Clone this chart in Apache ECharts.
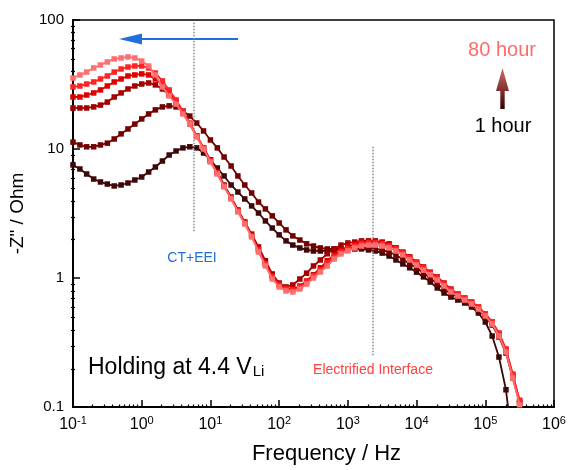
<!DOCTYPE html>
<html>
<head>
<meta charset="utf-8">
<script src="https://cdn.jsdelivr.net/npm/echarts@6/dist/echarts.min.js"></script>
<style>
  html, body { margin:0; padding:0; background:#fff; }
  #chart { width:569px; height:470px; }
</style>
</head>
<body>
<div id="chart"></div>
<script>
// frequency points (Hz), 10 per decade
const freq = [
  0.1, 0.126, 0.158, 0.2, 0.251, 0.316, 0.398, 0.501, 0.631, 0.794,
  1, 1.26, 1.58, 2, 2.51, 3.16, 3.98, 5.01, 6.31, 7.94,
  10, 12.6, 15.8, 20, 25.1, 31.6, 39.8, 50.1, 63.1, 79.4,
  100, 126, 158, 200, 251, 316, 398, 501, 631, 794,
  1000, 1260, 1580, 2000, 2510, 3160, 3980, 5010, 6310, 7940,
  10000, 12600, 15800, 20000, 25100, 31600, 39800, 50100, 63100, 79400,
  100000, 126000, 158000, 200000, 251000, 316000, 398000
];

// -Z'' (Ohm) for each holding time, 1 hour -> 80 hour
const h1 = [
  7.52, 7.00, 6.40, 5.85, 5.55, 5.35, 5.17, 5.26, 5.45, 5.75,
  6.07, 6.63, 7.25, 8.07, 8.98, 9.65, 10.2, 10.4, 10.2, 9.31,
  8.22, 7.12, 6.18, 5.26, 4.64, 4.10, 3.62, 3.19, 2.77, 2.44,
  2.16, 1.94, 1.80, 1.71, 1.65, 1.62, 1.62, 1.62, 1.65, 1.65,
  1.68, 1.68, 1.68, 1.65, 1.62, 1.56, 1.48, 1.38, 1.285, 1.20,
  1.11, 1.02, 0.931, 0.837, 0.765, 0.712, 0.675, 0.640, 0.596, 0.535,
  0.456, 0.355, 0.244, 0.136, 0.05
];
const h2 = [
  11.3, 10.75, 10.4, 10.4, 10.75, 11.1, 11.96, 13.1, 14.3, 15.6,
  17.1, 18.7, 20.1, 21.2, 21.6, 21.2, 19.7, 18.0, 15.9, 13.8,
  11.75, 10.2, 8.67, 7.38, 6.18, 5.26, 4.56, 3.88, 3.43, 3.03,
  2.67, 2.36, 2.12, 1.97, 1.84, 1.77, 1.71, 1.68, 1.68, 1.68,
  1.71, 1.71, 1.71, 1.71, 1.68, 1.65, 1.59, 1.51, 1.40, 1.285,
  1.20, 1.09, 1.0, 0.898, 0.822, 0.752, 0.712, 0.663, 0.618, 0.565,
  0.499, 0.432, 0.349, 0.262, 0.168, 0.107
];
const h3 = [
  20.8, 20.8, 20.8, 21.2, 21.9, 23.1, 25.3, 27.2, 29.2, 30.8,
  31.9, 32.5, 31.4, 29.2, 26.2, 22.7, 19.0, 15.6, 12.6, 10.2,
  8.22, 6.63, 5.26, 4.25, 3.37, 2.72, 2.19, 1.74, 1.36, 1.075,
  0.915, 0.852, 0.883, 0.982, 1.09, 1.24, 1.38, 1.54, 1.68, 1.80,
  1.87, 1.90, 1.94, 1.94, 1.94, 1.90, 1.84, 1.71, 1.56, 1.43,
  1.31, 1.175, 1.075, 0.982, 0.883, 0.793, 0.738, 0.687, 0.640, 0.585,
  0.517, 0.448, 0.362, 0.272, 0.174, 0.111
];
const h4 = [
  25.3, 25.3, 26.2, 27.2, 28.7, 30.8, 33.1, 34.9, 36.8, 37.5,
  38.2, 37.5, 34.9, 31.4, 27.2, 23.1, 19.0, 15.6, 12.6, 10.2,
  8.07, 6.52, 5.17, 4.17, 3.31, 2.67, 2.12, 1.65, 1.285, 1.04,
  0.898, 0.837, 0.822, 0.867, 0.948, 1.06, 1.20, 1.36, 1.51, 1.65,
  1.74, 1.84, 1.90, 1.90, 1.90, 1.87, 1.80, 1.71, 1.59, 1.46,
  1.33, 1.22, 1.11, 1.02, 0.915, 0.822, 0.752, 0.700, 0.652, 0.596,
  0.526, 0.456, 0.368, 0.277, 0.177, 0.109
];
const h5 = [
  30.3, 30.8, 31.9, 33.1, 34.9, 36.8, 39.5, 41.7, 43.2, 44.0,
  44.0, 42.5, 38.8, 33.7, 28.7, 24.0, 19.7, 15.9, 12.6, 10.2,
  8.07, 6.52, 5.17, 4.17, 3.31, 2.67, 2.12, 1.65, 1.285, 1.02,
  0.883, 0.822, 0.807, 0.852, 0.931, 1.04, 1.15, 1.31, 1.46, 1.59,
  1.68, 1.77, 1.84, 1.87, 1.87, 1.84, 1.77, 1.68, 1.56, 1.43,
  1.31, 1.20, 1.09, 1.0, 0.898, 0.807, 0.752, 0.700, 0.652, 0.596,
  0.526, 0.456, 0.375, 0.282, 0.180, 0.113
];
const h80 = [
  35.5, 37.5, 39.5, 42.5, 44.8, 47.3, 49.9, 50.8, 51.7, 50.8,
  48.1, 44.0, 37.5, 30.3, 25.8, 22.3, 18.7, 15.6, 12.4, 10.0,
  7.93, 6.40, 5.08, 4.10, 3.25, 2.62, 2.08, 1.59, 1.24, 0.982,
  0.852, 0.793, 0.779, 0.822, 0.898, 1.0, 1.113, 1.24, 1.404, 1.536,
  1.62, 1.71, 1.77, 1.80, 1.80, 1.77, 1.71, 1.62, 1.51, 1.38,
  1.26, 1.15, 1.06, 0.965, 0.867, 0.779, 0.725, 0.675, 0.629, 0.575,
  0.508, 0.440, 0.355, 0.267, 0.168, 0.104
];

const curves = [h1, h2, h3, h4, h5, h80];
const colors = ['#3f0808', '#720000', '#a30000', '#dd0000', '#ff2424', '#ff6f6f'];

// axis ticks
const xMajor = [0.1, 1, 10, 100, 1000, 10000, 100000, 1000000];
const yMajor = [0.1, 1, 10, 100];
const yLabels = ['0.1', '1', '10', '100'];
const minorSteps = [2, 3, 4, 5, 6, 7, 8, 9];

// guide lines: [freq, top, bottom]
const guideCT = [5.7, 95, 2.25];
const guideEI = [2300, 10.4, 0.245];

let xMinor = [], yMinor = [];
xMajor.slice(0, -1).forEach(d => minorSteps.forEach(m => xMinor.push(+(d * m).toPrecision(3))));
yMajor.slice(0, -1).forEach(d => minorSteps.forEach(m => yMinor.push(+(d * m).toPrecision(3))));

const font = '"Liberation Sans", Arial, sans-serif';

let myChart = echarts.init(document.getElementById('chart'));

let series = curves.map((c, k) => ({
  type:'line',
  xAxisIndex:0,
  yAxisIndex:0,
  symbol:'rect',
  symbolSize:5.5,
  color:colors[k],
  lineStyle:{ width:1.8, color:colors[k] },
  itemStyle:{ color:colors[k] },
  z:2 + k,
  data:c.map((v, i) => [freq[i], v])
}));

series[0].markLine = {
  silent:true,
  symbol:'none',
  label:{ show:false },
  lineStyle:{ type:'dotted', color:'#8a8a8a', width:1.5 },
  data:[
    [{ coord:[guideCT[0], guideCT[1]] }, { coord:[guideCT[0], guideCT[2]] }],
    [{ coord:[guideEI[0], guideEI[1]] }, { coord:[guideEI[0], guideEI[2]] }]
  ]
};

let gridBox = { left:71, right:15, top:20, bottom:62 };

let option = {
  animation:false,
  backgroundColor:'#fff',
  textStyle:{ fontFamily:font },
  grid:[
    Object.assign({ show:true, borderColor:'#000', borderWidth:1.5 }, gridBox),
    Object.assign({}, gridBox)
  ],
  xAxis:[
    {
      type:'log', gridIndex:0, min:0.1, max:1000000,
      name:'Frequency / Hz', nameLocation:'middle', nameGap:36,
      nameTextStyle:{ fontSize:22, color:'#000', fontFamily:font, padding:[0,0,0,26] },
      axisLine:{ lineStyle:{ color:'#000', width:2 } },
      axisTick:{ inside:true, length:7, customValues:xMajor, lineStyle:{ color:'#000', width:1.5 } },
      splitLine:{ show:false },
      axisLabel:{
        customValues:xMajor,
        margin:8,
        color:'#000',
        formatter:(value)=>{
          let e = Math.round(Math.log10(value));
          return '{b|10}{s|' + e + '}';
        },
        rich:{
          b:{ fontSize:16, fontFamily:font, color:'#000' },
          s:{ fontSize:11, fontFamily:font, color:'#000', padding:[0,0,9,0] }
        }
      }
    },
    {
      type:'log', gridIndex:1, min:0.1, max:1000000,
      axisLine:{ show:false },
      axisLabel:{ show:false },
      splitLine:{ show:false },
      axisTick:{ inside:true, length:3.5, customValues:xMinor, lineStyle:{ color:'#000', width:1.2 } }
    }
  ],
  yAxis:[
    {
      type:'log', gridIndex:0, min:0.1, max:100,
      name:'-Z" / Ohm', nameLocation:'middle', nameGap:46,
      nameTextStyle:{ fontSize:19, color:'#000', fontFamily:font },
      axisLine:{ show:true, lineStyle:{ color:'#000', width:2 } },
      axisTick:{ show:true, inside:true, length:7, customValues:yMajor, lineStyle:{ color:'#000', width:1.5 } },
      splitLine:{ show:false },
      axisLabel:{
        customValues:yMajor,
        fontSize:15, color:'#000', margin:9, fontFamily:font,
        formatter:(value)=>yLabels[yMajor.indexOf(value)] || String(value)
      }
    },
    {
      type:'log', gridIndex:1, min:0.1, max:100,
      axisLine:{ show:false },
      axisLabel:{ show:false },
      splitLine:{ show:false },
      axisTick:{ show:true, inside:true, length:4, customValues:yMinor, lineStyle:{ color:'#000', width:1.2 } }
    }
  ],
  graphic:[
    // blue arrow (shift to low frequency)
    { type:'line', shape:{ x1:138, y1:39, x2:238, y2:39 }, style:{ stroke:'#1f6fe0', lineWidth:2 } },
    { type:'polygon', shape:{ points:[[119,39],[142,33.5],[142,44.5]] }, style:{ fill:'#1f6fe0' } },
    // time arrow
    {
      type:'polygon',
      shape:{ points:[[502.5,68],[509,91],[504.7,91],[504.7,109],[500.3,109],[500.3,91],[496,91]] },
      style:{
        fill:new echarts.graphic.LinearGradient(0, 0, 0, 1, [
          { offset:0, color:'#d46a6a' },
          { offset:1, color:'#3a0000' }
        ])
      }
    },
    { type:'text', x:502, y:50, style:{ text:'80 hour', font:'20px ' + font, fill:'#ff6b6b', align:'center', verticalAlign:'middle' } },
    { type:'text', x:503, y:126, style:{ text:'1 hour', font:'20px ' + font, fill:'#000', align:'center', verticalAlign:'middle' } },
    { type:'text', x:192, y:258, style:{ text:'CT+EEI', font:'14px ' + font, fill:'#1f6fe0', align:'center', verticalAlign:'middle' } },
    { type:'text', x:373, y:370, style:{ text:'Electrified Interface', font:'14px ' + font, fill:'#ff4040', align:'center', verticalAlign:'middle' } },
    {
      type:'text', x:88, y:368,
      style:{
        text:'{a|Holding at 4.4 V}{b|Li}',
        align:'left', verticalAlign:'middle',
        rich:{
          a:{ fontSize:23, fontFamily:font, fill:'#000', color:'#000' },
          b:{ fontSize:15, fontFamily:font, fill:'#000', color:'#000', padding:[7,0,0,1] }
        }
      }
    }
  ],
  series:series
};
myChart.setOption(option);
</script>
</body>
</html>
